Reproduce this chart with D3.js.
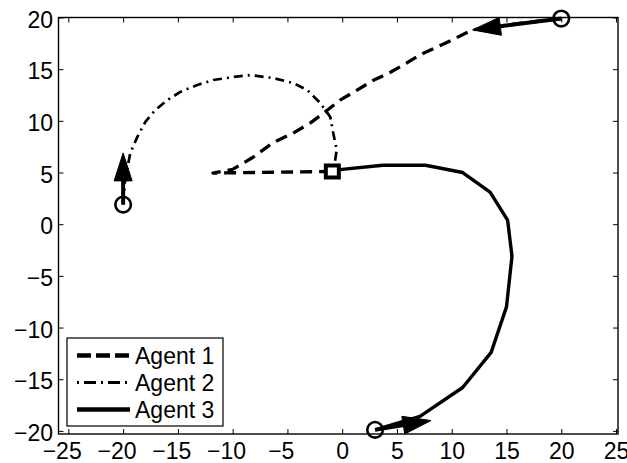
<!DOCTYPE html>
<html>
<head>
<meta charset="utf-8">
<script src="https://cdn.jsdelivr.net/npm/d3@7"></script>
<style>
  html, body { margin: 0; padding: 0; background: #fff; }
  svg { display: block; }
</style>
</head>
<body>
<svg id="chart" width="627" height="463"></svg>
<script>
// ---- data ----
const xTicks = [-25, -20, -15, -10, -5, 0, 5, 10, 15, 20, 25];
const yTicks = [-20, -15, -10, -5, 0, 5, 10, 15, 20];
const agentNames = ["Agent 1", "Agent 2", "Agent 3"];

const agent1X = [20, 16, 11.9, 9.4, 7.1, 5.9, 4.4, 2.8, 1.4, -0.2, -1.4, -2.9, -4.5, -6.3, -8.1, -10, -11.8, -0.9];
const agent1Y = [19.9, 19.4, 18.8, 17.5, 16.4, 15.6, 14.7, 13.9, 13.0, 12.0, 11.0, 9.8, 8.8, 7.9, 6.5, 5.3, 4.95, 5.1];

const agent2X = [-20, -19.8, -19.34, -18.7, -17.97, -17.06, -15.97, -14.78, -13.23, -11.77, -9.95, -8.4, -6.3, -4.47, -3.19, -2.01, -1.09, -0.82, -0.5, -0.7, -0.9];
const agent2Y = [1.9, 4.5, 6.9, 8.45, 9.9, 11.05, 12.0, 12.8, 13.47, 13.95, 14.24, 14.43, 14.14, 13.66, 12.98, 11.73, 10.38, 8.83, 7.2, 5.8, 5.1];

const agent3X = [3, 7.1, 11, 13.6, 15, 15.5, 15.1, 13.5, 11, 7.6, 3.7, 0, -0.9];
const agent3Y = [-19.9, -18.6, -15.8, -12.4, -8, -3.1, 0.4, 3.1, 5, 5.7, 5.7, 5.3, 5.1];

// initial heading arrows (start -> tip)
const arrowX0 = [20, -20, 3];
const arrowY0 = [19.9, 1.9, -19.9];
const arrowX1 = [11.9, -20, 8.1];
const arrowY1 = [18.8, 6.9, -19.0];

// common goal (square)
const goalX = [-0.9];
const goalY = [5.1];

// ---- layout ----
const L = 58.5, R = 618, T = 17.5, B = 434;
const FONT = "'Liberation Sans', Arial, Helvetica, sans-serif";
const FS = "23px";

const svg = d3.select("#chart");
const x = d3.scaleLinear().domain([-25.9, 25.18]).range([L, R]);
const y = d3.scaleLinear().domain([-20.3, 20]).range([B, T]);

const agents = [
  { xs: agent1X, ys: agent1Y, dash: "12,7", width: 3.3 },
  { xs: agent2X, ys: agent2Y, dash: "9,5,2,5", width: 2.7 },
  { xs: agent3X, ys: agent3Y, dash: null, width: 3.4 }
];

const line = d3.line().x(d => x(d[0])).y(d => y(d[1]));

const plot = svg.append("g");

agents.forEach(a => {
  const pts = a.xs.map((v, i) => [v, a.ys[i]]);
  plot.append("path")
    .attr("d", line(pts))
    .attr("fill", "none")
    .attr("stroke", "#000")
    .attr("stroke-width", a.width)
    .attr("stroke-linejoin", "round")
    .attr("stroke-dasharray", a.dash);
});

// arrows
const HEAD_LEN = 28, HEAD_HALF = 9;
arrowX0.forEach((_, i) => {
  const sx = x(arrowX0[i]), sy = y(arrowY0[i]);
  const tx = x(arrowX1[i]), ty = y(arrowY1[i]);
  const dx = tx - sx, dy = ty - sy;
  const len = Math.hypot(dx, dy);
  const ux = dx / len, uy = dy / len;
  const bx = tx - ux * HEAD_LEN, by = ty - uy * HEAD_LEN;
  plot.append("line")
    .attr("x1", sx).attr("y1", sy).attr("x2", bx + ux * 2).attr("y2", by + uy * 2)
    .attr("stroke", "#000").attr("stroke-width", 4);
  const p = [[tx, ty], [bx - uy * HEAD_HALF, by + ux * HEAD_HALF], [bx + uy * HEAD_HALF, by - ux * HEAD_HALF]];
  plot.append("path")
    .attr("d", "M" + p.map(q => q.join(",")).join("L") + "Z")
    .attr("fill", "#000").attr("stroke", "#000").attr("stroke-width", 1);
});

// start circles
plot.selectAll("circle.start")
  .data(arrowX0.map((v, i) => [v, arrowY0[i]]))
  .join("circle")
  .attr("class", "start")
  .attr("cx", d => x(d[0])).attr("cy", d => y(d[1]))
  .attr("r", 7.8)
  .attr("fill", "none").attr("stroke", "#000").attr("stroke-width", 2.6);

// goal square
plot.selectAll("rect.goal")
  .data(goalX.map((v, i) => [v, goalY[i]]))
  .join("rect")
  .attr("class", "goal")
  .attr("x", d => x(d[0]) - 6.5).attr("y", d => y(d[1]) - 6)
  .attr("width", 13).attr("height", 12)
  .attr("fill", "#fff").attr("stroke", "#000").attr("stroke-width", 4);

// ---- axes ----
function styleAxis(g) {
  g.select(".domain").remove();
  g.selectAll(".tick line").attr("stroke", "#000").attr("stroke-width", 1);
  g.selectAll("text").attr("fill", "#000").style("font-family", FONT).style("font-size", FS);
}

const fmt = d => (d < 0 ? "\u2212" + Math.abs(d) : String(d));

svg.append("g")
  .attr("transform", `translate(0,${B})`)
  .call(d3.axisBottom(x).tickValues(xTicks).tickSize(-5).tickSizeOuter(0).tickPadding(9).tickFormat(fmt))
  .call(styleAxis)
  .call(g => g.selectAll(".tick text").attr("dx", d => d < 0 ? "-0.29em" : 0));

svg.append("g")
  .attr("transform", `translate(0,${T})`)
  .call(d3.axisTop(x).tickValues(xTicks).tickSize(-5).tickSizeOuter(0).tickFormat(""))
  .call(styleAxis);

svg.append("g")
  .attr("transform", `translate(${L},0)`)
  .call(d3.axisLeft(y).tickValues(yTicks).tickSize(-5).tickSizeOuter(0).tickPadding(5.5).tickFormat(fmt))
  .call(styleAxis)
  .call(g => g.selectAll(".tick text").attr("dy", "0.42em"));

svg.append("g")
  .attr("transform", `translate(${R},0)`)
  .call(d3.axisRight(y).tickValues(yTicks).tickSize(-5).tickSizeOuter(0).tickFormat(""))
  .call(styleAxis);

svg.append("rect")
  .attr("x", L).attr("y", T).attr("width", R - L).attr("height", B - T)
  .attr("fill", "none").attr("stroke", "#000").attr("stroke-width", 1.4);

// ---- legend ----
const leg = svg.append("g");
leg.append("rect")
  .attr("x", 67).attr("y", 338).attr("width", 156).attr("height", 88)
  .attr("fill", "#fff").attr("stroke", "#000").attr("stroke-width", 1.2);

const legDash = ["14,5", "2,5,12,5", null];
const legY = d3.scalePoint().domain(agentNames).range([355.5, 409.5]);
agentNames.forEach((name, i) => {
  const yy = legY(name);
  leg.append("line")
    .attr("x1", 77).attr("x2", 130).attr("y1", yy).attr("y2", yy)
    .attr("stroke", "#000").attr("stroke-width", i === 1 ? 3 : 4.5)
    .attr("stroke-dasharray", legDash[i]);
  leg.append("text")
    .attr("x", 135).attr("y", yy + 8)
    .style("font-family", FONT).style("font-size", FS)
    .attr("fill", "#000")
    .text(name);
});
</script>
</body>
</html>
